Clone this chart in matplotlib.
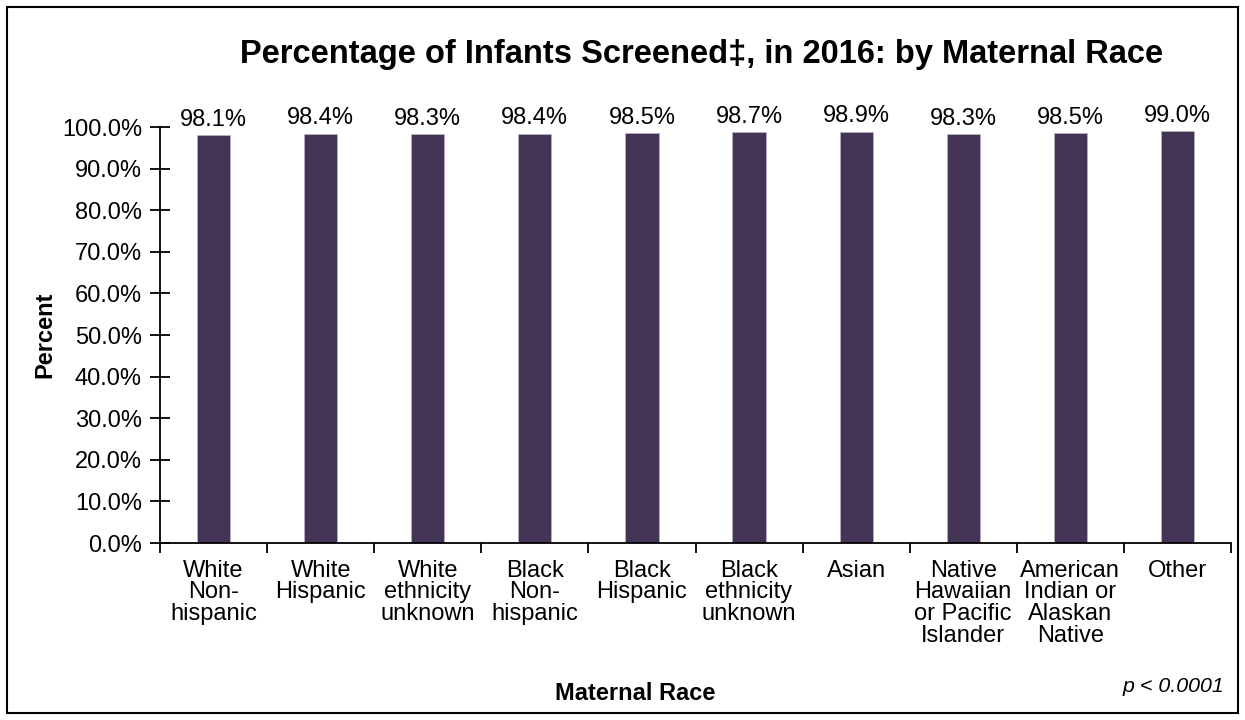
import matplotlib

matplotlib.use("Agg")
import matplotlib.pyplot as plt
from matplotlib.patches import Rectangle
from matplotlib.ticker import FuncFormatter

plt.rcParams['font.family'] = ['Liberation Sans', 'DejaVu Sans']

CATEGORIES = ["White\nNon-\nhispanic", "White\nHispanic", "White\nethnicity\nunknown",
              "Black\nNon-\nhispanic", "Black\nHispanic", "Black\nethnicity\nunknown",
              "Asian", "Native\nHawaiian\nor Pacific\nIslander",
              "American\nIndian or\nAlaskan\nNative", "Other"]
VALUES = [98.1, 98.4, 98.3, 98.4, 98.5, 98.7, 98.9, 98.3, 98.5, 99.0]
BAR_COLOR = "#433355"

fig = plt.figure(figsize=(12.45, 7.2), dpi=100)
ax = fig.add_axes([160 / 1245, 1 - 543 / 720, 1071 / 1245, 416 / 720])

xs = list(range(len(VALUES)))
ax.bar(xs, VALUES, width=0.31, color=BAR_COLOR, edgecolor="#b7aec2", linewidth=0.6)
for x, v in zip(xs, VALUES):
    ax.text(x, v + 1.0, "%.1f%%" % v, ha="center", va="bottom", fontsize=17)

ax.set_xlim(-0.5, len(VALUES) - 0.5)
ax.set_ylim(0, 100)
ax.set_yticks(range(0, 101, 10))
ax.yaxis.set_major_formatter(FuncFormatter(lambda v, p: "%.1f%%" % v))
ax.tick_params(axis="y", labelsize=17, direction="inout", length=14, width=1.3, pad=6)

ax.set_xticks([x - 0.5 for x in xs] + [len(VALUES) - 0.5])
ax.set_xticklabels([])
ax.set_xticks(xs, minor=True)
ax.set_xticklabels(CATEGORIES, minor=True, fontsize=17, linespacing=0.99, va="top")
ax.tick_params(axis="x", which="major", direction="out", length=7, width=1.3)
ax.tick_params(axis="x", which="minor", length=0, pad=12)

for side in ["top", "right"]:
    ax.spines[side].set_visible(False)
ax.spines["left"].set_linewidth(1.3)
ax.spines["bottom"].set_linewidth(1.3)

ax.set_ylabel("Percent", fontsize=17, fontweight="bold", labelpad=4)
fig.text(635 / 1245, 1 - 694 / 720, "Maternal Race", fontsize=17, fontweight="bold",
         ha="center", va="center")
fig.text(1224 / 1245, 1 - 686 / 720, "p < 0.0001", fontsize=15.4, style="italic",
         ha="right", va="center")
fig.text(702 / 1245, 1 - 55 / 720, "Percentage of Infants Screened\u2021, in 2016: by Maternal Race",
         fontsize=23.5, fontweight="bold", ha="center", va="center")

fig.patches.append(Rectangle((7 / 1245, 7 / 720), 1231 / 1245, 706 / 720,
                             transform=fig.transFigure, fill=False,
                             edgecolor="black", linewidth=1.5))

fig.savefig("out.png", dpi=100)
